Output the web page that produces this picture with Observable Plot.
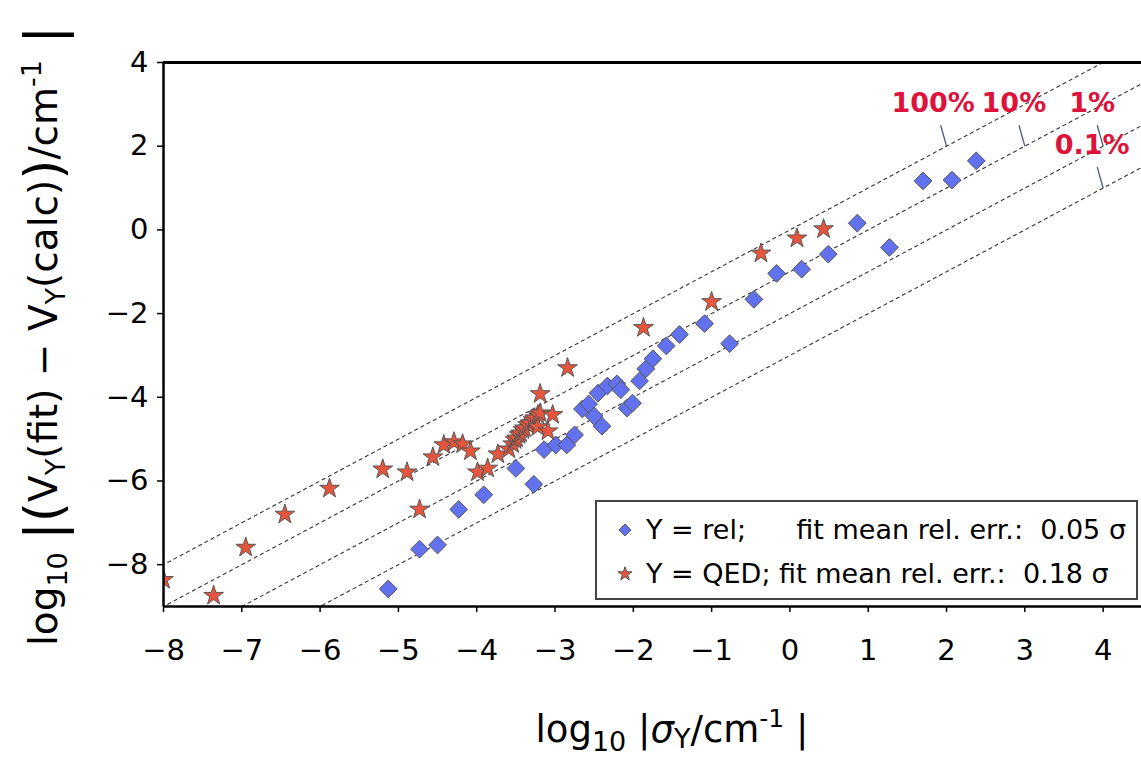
<!DOCTYPE html>
<html>
<head>
<meta charset="utf-8">
<script src="https://cdn.jsdelivr.net/npm/d3@7"></script>
<script src="https://cdn.jsdelivr.net/npm/@observablehq/plot@0.6"></script>
<style>
  html, body { margin: 0; padding: 0; background: #fff; }
  #chart { width: 1141px; height: 757px; overflow: hidden; }
</style>
</head>
<body>
<div id="chart"></div>
<script>
// ---- data ----
const relX = [-5.13,-4.73,-4.50,-4.23,-3.91,-3.50,-3.27,-3.14,-2.99,-2.85,-2.75,-2.65,-2.57,-2.50,-2.40,-2.45,-2.33,-2.21,-2.16,-2.08,-2.01,-1.92,-1.84,-1.75,-1.58,-1.41,-1.09,-0.77,-0.46,-0.17,0.15,0.49,0.86,1.27,1.70,2.07,2.38];
const relY = [-8.58,-7.63,-7.53,-6.68,-6.33,-5.70,-6.08,-5.25,-5.14,-5.14,-4.90,-4.28,-4.16,-4.45,-4.69,-3.90,-3.73,-3.68,-3.82,-4.26,-4.14,-3.61,-3.32,-3.08,-2.77,-2.50,-2.24,-2.72,-1.66,-1.04,-0.94,-0.58,0.16,-0.42,1.17,1.19,1.65];
const qedX = [-8.0,-7.36,-6.95,-6.45,-5.88,-5.20,-4.89,-4.73,-4.56,-4.42,-4.29,-4.18,-4.08,-3.99,-3.86,-3.73,-3.59,-3.54,-3.51,-3.49,-3.46,-3.44,-3.41,-3.39,-3.35,-3.32,-3.28,-3.26,-3.22,-3.19,-3.19,-3.03,-3.22,-3.09,-2.84,-1.87,-1.00,-0.37,0.09,0.43];
const qedY = [-8.36,-8.74,-7.59,-6.80,-6.18,-5.72,-5.79,-6.68,-5.43,-5.14,-5.07,-5.12,-5.29,-5.79,-5.70,-5.36,-5.24,-5.12,-5.02,-4.98,-4.90,-4.86,-4.78,-4.74,-4.66,-4.62,-4.54,-4.50,-4.42,-4.38,-3.92,-4.42,-4.71,-4.81,-3.30,-2.34,-1.72,-0.56,-0.20,0.02];

// reference lines y = x + offset (relative error levels)
const pctLabels = ["100%", "10%", "1%", "0.1%"];
const pctOffsets = [0, -1, -2, -3];
const pctLabelX = [1.83, 2.86, 3.86, 3.86];
const pctLabelY = [3.02, 3.02, 3.02, 2.01];
const pctPointX = [2, 3, 4, 4];

const xTicks = [-8,-7,-6,-5,-4,-3,-2,-1,0,1,2,3,4];
const yTicks = [4,2,0,-2,-4,-6,-8];

const legendLabels = ["Y = rel;", "Y = QED; fit mean rel. err.:  0.18 σ"];
const legendErr = ["fit mean rel. err.:  0.05 σ", ""];

// ---- build tables ----
const rel = relX.map((x, i) => ({x, y: relY[i]}));
const qed = qedX.map((x, i) => ({x, y: qedY[i]}));
const pct = pctLabels.map((label, i) => ({
  label, off: pctOffsets[i], lx: pctLabelX[i], ly: pctLabelY[i], px: pctPointX[i]
}));

const blue = "#6272ee", red = "#e8553d", edge = "#555";

const svg = Plot.plot({
  width: 1141,
  height: 757,
  marginLeft: 163,
  marginRight: 0,
  marginTop: 62,
  marginBottom: 151,
  style: {fontFamily: "DejaVu Sans", background: "#fff", color: "#000"},
  x: {domain: [-8, 4.49]},
  y: {domain: [-9, 4]},
  marks: [
    Plot.link(pct, {
      x1: () => -10, y1: d => -10 + d.off, x2: () => 6, y2: d => 6 + d.off,
      stroke: "#333", strokeWidth: 1.1, strokeDasharray: "4,3", clip: true
    }),
    Plot.link(pct, {
      x1: d => d.px - 0.075, y1: d => d.px + d.off + 0.5, x2: d => d.px, y2: d => d.px + d.off,
      stroke: "#4a5a78", strokeWidth: 1.3
    }),
    Plot.text(pct, {
      x: "lx", y: "ly", text: "label", fill: "#dc143c",
      fontSize: 27, fontWeight: "bold", textAnchor: "middle"
    }),
    Plot.dot(rel, {x: "x", y: "y", symbol: "diamond2", r: 8, fill: blue, stroke: edge, strokeWidth: 1, clip: true}),
    Plot.dot(qed, {x: "x", y: "y", symbol: "star", r: 6.2, fill: red, stroke: edge, strokeWidth: 1, clip: true}),
    Plot.ruleX([-8], {stroke: "#000", strokeWidth: 2.5}),
    Plot.ruleY([4], {stroke: "#000", strokeWidth: 3}),
    Plot.ruleY([-9], {stroke: "#000", strokeWidth: 2.5}),
    Plot.axisX(xTicks, {ticks: xTicks, tickSize: 6, tickPadding: 27, fontSize: 29, label: null, tickFormat: d3.format("d"), strokeWidth: 1.5}),
    Plot.axisY(yTicks, {ticks: yTicks, tickSize: 6, tickPadding: 9, fontSize: 29, label: null, tickFormat: d3.format("d"), strokeWidth: 1.5})
  ]
});
document.getElementById("chart").append(svg);

// ---- axis titles & legend (real SVG text) ----
const s = d3.select(svg);

function rich(textSel, parts) {
  let cur = 0;
  for (const p of parts) {
    const t = textSel.append("tspan").text(p.t);
    const target = p.dy || 0;
    if (target !== cur) t.attr("dy", (target - cur) + "px");
    cur = target;
    if (p.fs) t.attr("font-size", p.fs);
    if (p.it) t.attr("font-style", "italic");
  }
}

const yTitle = s.append("text")
  .attr("transform", "translate(57,336) rotate(-90)")
  .attr("text-anchor", "middle")
  .attr("font-family", "DejaVu Sans")
  .attr("font-size", 39)
  .attr("fill", "#000")
  .attr("xml:space", "preserve");
rich(yTitle, [
  {t: "log"}, {t: "10", fs: 27, dy: 10}, {t: " ", dy: 0},
  {t: "|", fs: 52, dy: 4}, {t: "(", fs: 52, dy: 4},
  {t: "V", dy: 0}, {t: "Y", fs: 27, dy: 8}, {t: "(fit) − V", dy: 0}, {t: "Y", fs: 27, dy: 8},
  {t: "(calc)", dy: 0}, {t: ")", fs: 52, dy: 4}, {t: "/cm", dy: 0}, {t: "-1", fs: 27, dy: -16},
  {t: " |", fs: 52, dy: 4}
]);

const xTitle = s.append("text")
  .attr("transform", "translate(672,742)")
  .attr("text-anchor", "middle")
  .attr("font-family", "DejaVu Sans")
  .attr("font-size", 37)
  .attr("fill", "#000")
  .attr("xml:space", "preserve");
rich(xTitle, [
  {t: "log"}, {t: "10", fs: 27, dy: 9}, {t: " |", dy: 0},
  {t: "σ", it: true, dy: 0}, {t: "Y", fs: 27, dy: 6},
  {t: "/cm", dy: 0}, {t: "-1", fs: 25, dy: -15}, {t: " |", dy: 0}
]);

// legend
const lg = s.append("g");
lg.append("rect").attr("x", 596).attr("y", 501).attr("width", 541).attr("height", 98)
  .attr("fill", "#fff").attr("stroke", "#444").attr("stroke-width", 2);
const symD = d3.symbol().type(d3.symbolDiamond2).size(90)();
const symS = d3.symbol().type(d3.symbolStar).size(60)();
[symD, symS].forEach((p, i) => {
  lg.append("path").attr("d", p)
    .attr("transform", `translate(625,${530 + i * 44})`)
    .attr("fill", i === 0 ? blue : red).attr("stroke", edge).attr("stroke-width", 1);
});
legendLabels.forEach((lab, i) => {
  lg.append("text").attr("x", 646).attr("y", 539 + i * 44).attr("text-anchor", "start")
    .attr("xml:space", "preserve")
    .attr("font-family", "DejaVu Sans").attr("font-size", 27).attr("fill", "#000")
    .text(lab);
  if (legendErr[i]) {
    lg.append("text").attr("x", 1126).attr("y", 539 + i * 44).attr("text-anchor", "end")
      .attr("xml:space", "preserve")
      .attr("font-family", "DejaVu Sans").attr("font-size", 27).attr("fill", "#000")
      .text(legendErr[i]);
  }
});
</script>
</body>
</html>
